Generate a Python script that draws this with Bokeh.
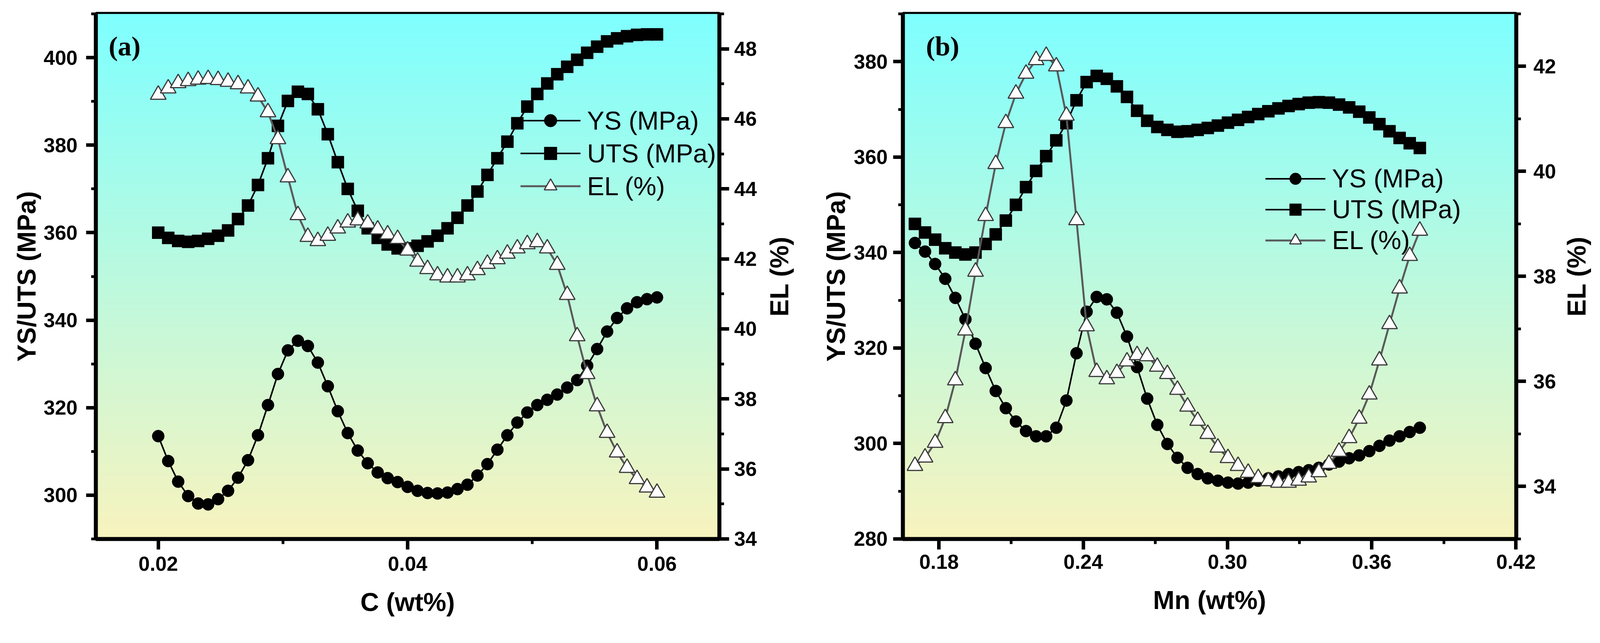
import numpy as np
from bokeh.plotting import figure
from bokeh.models import (Range1d, LinearAxis, FixedTicker, PrintfTickFormatter,
                          Legend, LegendItem, Label)
from bokeh.layouts import row
from bokeh.embed import file_html
from bokeh.resources import INLINE

# ---------------- data : panel (a) C content ----------------
c_wt = [0.0200, 0.0208, 0.0216, 0.0224, 0.0232, 0.0240, 0.0248, 0.0256, 0.0264, 0.0272,
        0.0280, 0.0288, 0.0296, 0.0304, 0.0312, 0.0320, 0.0328, 0.0336, 0.0344, 0.0352,
        0.0360, 0.0368, 0.0376, 0.0384, 0.0392, 0.0400, 0.0408, 0.0416, 0.0424, 0.0432,
        0.0440, 0.0448, 0.0456, 0.0464, 0.0472, 0.0480, 0.0488, 0.0496, 0.0504, 0.0512,
        0.0520, 0.0528, 0.0536, 0.0544, 0.0552, 0.0560, 0.0568, 0.0576, 0.0584, 0.0592,
        0.0600]
ys_c = [313.5, 307.8, 303.1, 299.8, 298.1, 297.9, 299.1, 301.0, 304.0, 308.0,
        313.7, 320.6, 327.7, 333.1, 335.3, 334.1, 330.3, 324.9, 319.2, 314.2,
        310.2, 307.3, 305.2, 303.9, 303.0, 301.9, 301.0, 300.5, 300.4, 300.6,
        301.4, 302.4, 304.5, 307.1, 310.4, 313.7, 316.6, 318.9, 320.6, 321.8,
        323.0, 324.6, 326.3, 329.6, 333.4, 337.4, 340.5, 342.7, 344.1, 344.8,
        345.2]
uts_c = [360.0, 358.8, 358.1, 357.9, 358.1, 358.6, 359.3, 360.5, 363.1, 366.2,
         370.9, 377.0, 384.4, 390.1, 392.2, 391.7, 388.2, 382.5, 376.1, 370.0,
         365.0, 361.0, 358.8, 357.3, 356.4, 356.4, 357.0, 358.0, 359.3, 361.0,
         363.4, 366.2, 369.4, 373.2, 377.0, 380.8, 385.0, 388.8, 391.7, 394.1,
         396.2, 397.9, 399.5, 401.1, 402.5, 403.7, 404.4, 404.9, 405.2, 405.3,
         405.3]
el_c = [46.69, 46.87, 47.02, 47.08, 47.12, 47.14, 47.11, 47.06, 46.99, 46.87,
        46.64, 46.19, 45.42, 44.33, 43.25, 42.63, 42.51, 42.66, 42.87, 43.04,
        43.10, 43.01, 42.84, 42.70, 42.57, 42.24, 41.92, 41.71, 41.53, 41.47,
        41.47, 41.53, 41.68, 41.86, 41.99, 42.15, 42.30, 42.42, 42.48, 42.30,
        41.83, 40.97, 39.79, 38.71, 37.79, 37.03, 36.47, 36.03, 35.71, 35.47,
        35.32]

# ---------------- data : panel (b) Mn content ----------------
mn_wt = [0.1700, 0.1742, 0.1784, 0.1826, 0.1868, 0.1910, 0.1952, 0.1994, 0.2036, 0.2078,
         0.2120, 0.2162, 0.2204, 0.2246, 0.2288, 0.2330, 0.2372, 0.2414, 0.2456, 0.2498,
         0.2540, 0.2582, 0.2624, 0.2666, 0.2708, 0.2750, 0.2792, 0.2834, 0.2876, 0.2918,
         0.2960, 0.3002, 0.3044, 0.3086, 0.3128, 0.3170, 0.3212, 0.3254, 0.3296, 0.3338,
         0.3380, 0.3422, 0.3464, 0.3506, 0.3548, 0.3590, 0.3632, 0.3674, 0.3716, 0.3758,
         0.3800]
ys_mn = [342.0, 340.2, 337.6, 334.5, 330.5, 326.0, 320.9, 315.8, 311.0, 307.4,
         304.6, 302.6, 301.5, 301.5, 303.3, 309.0, 318.9, 327.6, 330.7, 330.2,
         327.4, 322.4, 316.0, 309.4, 303.9, 299.9, 297.0, 294.9, 293.6, 292.7,
         292.2, 291.8, 291.6, 291.8, 292.2, 292.7, 293.1, 293.6, 294.0, 294.4,
         294.9, 295.6, 296.2, 296.9, 297.5, 298.4, 299.5, 300.6, 301.5, 302.4,
         303.3]
uts_mn = [346.0, 344.2, 342.7, 340.9, 340.0, 339.6, 340.0, 341.8, 343.8, 346.7,
          350.0, 353.7, 357.1, 360.2, 363.5, 367.1, 371.9, 375.7, 377.0, 376.4,
          374.8, 372.6, 369.7, 367.6, 366.3, 365.7, 365.3, 365.4, 365.7, 366.1,
          366.6, 367.2, 367.8, 368.4, 369.0, 369.6, 370.2, 370.7, 371.1, 371.4,
          371.5, 371.4, 371.0, 370.4, 369.5, 368.3, 366.9, 365.4, 364.0, 362.9,
          361.9]
el_mn = [34.39, 34.55, 34.83, 35.30, 36.02, 36.97, 38.09, 39.15, 40.14, 40.92,
         41.48, 41.86, 42.12, 42.20, 42.00, 41.06, 39.07, 37.05, 36.18, 36.04,
         36.16, 36.38, 36.50, 36.48, 36.28, 36.14, 35.84, 35.52, 35.25, 35.00,
         34.74, 34.54, 34.39, 34.26, 34.16, 34.10, 34.07, 34.07, 34.11, 34.17,
         34.27, 34.43, 34.66, 34.92, 35.29, 35.75, 36.40, 37.09, 37.77, 38.39,
         38.87]

# ---------------- ticks ----------------
xticks_c = [0.02, 0.04, 0.06]
xminor_c = [0.03, 0.05]
yticks_c = [300, 320, 340, 360, 380, 400]
yminor_c = [290, 310, 330, 350, 370, 390, 410]
elticks_c = [34, 36, 38, 40, 42, 44, 46, 48]
elminor_c = [35, 37, 39, 41, 43, 45, 47, 49]

xticks_mn = [0.18, 0.24, 0.30, 0.36, 0.42]
xminor_mn = [0.21, 0.27, 0.33, 0.39]
yticks_mn = [280, 300, 320, 340, 360, 380]
yminor_mn = [290, 310, 330, 350, 370, 390]
elticks_mn = [34, 36, 38, 40, 42]
elminor_mn = [33, 35, 37, 39, 41, 43]

labels = ["YS (MPa)", "UTS (MPa)", "EL (%)"]
left_title = "YS/UTS (MPa)"
right_title = "EL (%)"

FONT = "Liberation Sans"
H = 1631
TICK_FS = "52px"
TITLE_FS = "66px"
LEG_FS = "66px"


def gradient(rows=600):
    top = np.array([126.0, 255.0, 255.0])
    bot = np.array([248.0, 243.0, 190.0])
    t = np.linspace(0.0, 1.0, rows)[:, None]
    rgb = bot * (1 - t) + top * t
    img = np.empty((rows, 2), dtype=np.uint32)
    v = img.view(dtype=np.uint8).reshape((rows, 2, 4))
    for k in range(3):
        v[:, :, k] = np.round(rgb[:, k])[:, None].astype(np.uint8)
    v[:, :, 3] = 255
    return img


def style_axis(ax, ticks, minor, tick_out, fmt=None, lab_standoff=15, title_standoff=15):
    ax.ticker = FixedTicker(ticks=ticks, minor_ticks=minor)
    if fmt:
        ax.formatter = PrintfTickFormatter(format=fmt)
    ax.axis_line_color = "black"
    ax.axis_line_width = 10
    ax.major_tick_line_color = "black"
    ax.major_tick_line_width = 9
    ax.major_tick_out = tick_out
    ax.major_tick_in = 0
    ax.minor_tick_line_color = "black"
    ax.minor_tick_line_width = 7
    ax.minor_tick_out = tick_out // 2
    ax.minor_tick_in = 0
    ax.major_label_text_font = FONT
    ax.major_label_text_font_size = TICK_FS
    ax.major_label_text_font_style = "bold"
    ax.major_label_text_color = "black"
    ax.major_label_standoff = lab_standoff
    ax.axis_label_text_font = FONT
    ax.axis_label_text_font_size = TITLE_FS
    ax.axis_label_text_font_style = "bold"
    ax.axis_label_text_color = "black"
    ax.axis_label_standoff = title_standoff


def title_only_axis(label, standoff):
    ax = LinearAxis(axis_label=label)
    ax.ticker = FixedTicker(ticks=[], minor_ticks=[])
    ax.axis_line_alpha = 0
    ax.major_tick_out = 0
    ax.major_tick_in = 0
    ax.minor_tick_out = 0
    ax.minor_tick_in = 0
    ax.major_label_standoff = 0
    ax.axis_label_text_font = FONT
    ax.axis_label_text_font_size = TITLE_FS
    ax.axis_label_text_font_style = "bold"
    ax.axis_label_text_color = "black"
    ax.axis_label_standoff = standoff
    return ax


def panel(x, ys, uts, el, xr, yr, elr, xt, xm, yt, ym, et, em, xlabel, tag, tag_frac,
          width, borders, legend_loc, row_h, stand, extra_left=None):
    bl, br, bt, bb = borders
    p = figure(width=width, height=H, x_range=Range1d(*xr), y_range=Range1d(*yr),
               output_backend="svg", toolbar_location=None,
               min_border_left=bl, min_border_right=br, min_border_top=bt, min_border_bottom=bb)
    p.extra_y_ranges = {"el": Range1d(*elr)}
    p.xgrid.visible = False
    p.ygrid.visible = False
    p.border_fill_color = "white"
    p.background_fill_color = "white"
    p.outline_line_color = "black"
    p.outline_line_width = 10
    p.outline_line_alpha = 1.0

    p.image_rgba(image=[gradient()], x=xr[0], y=yr[0], dw=xr[1] - xr[0], dh=yr[1] - yr[0],
                 level="image")

    l_uts = p.line(x, uts, line_color="black", line_width=4)
    s_uts = p.scatter(x, uts, marker="square", size=31, fill_color="black", line_color="black")
    l_ys = p.line(x, ys, line_color="black", line_width=4)
    s_ys = p.scatter(x, ys, marker="circle", size=31, fill_color="black", line_color="black")
    l_el = p.line(x, el, y_range_name="el", line_color="#5a5a5a", line_width=5)
    s_el = p.scatter(x, el, y_range_name="el", marker="triangle", size=40,
                     fill_color="white", line_color="#3a3a3a", line_width=3)

    p.xaxis.axis_label = xlabel
    style_axis(p.xaxis[0], xt, xm, 27, "%.2f", stand["xl"], stand["xt"])
    p.yaxis.axis_label = left_title
    style_axis(p.yaxis[0], yt, ym, 25, None, stand["yl"], stand["yt"])
    rax = LinearAxis(y_range_name="el")
    style_axis(rax, et, em, 25, None, stand["rl"], 0)
    p.add_layout(rax, "right")
    if extra_left is not None:
        p.add_layout(title_only_axis(*extra_left), "left")

    legend = Legend(items=[LegendItem(label=labels[0], renderers=[l_ys, s_ys]),
                           LegendItem(label=labels[1], renderers=[l_uts, s_uts]),
                           LegendItem(label=labels[2], renderers=[l_el, s_el])],
                    location=legend_loc, glyph_width=154, glyph_height=row_h, label_height=row_h,
                    spacing=3, padding=0, margin=0, label_standoff=17,
                    background_fill_alpha=0, border_line_alpha=0,
                    label_text_font=FONT, label_text_font_size=LEG_FS,
                    label_text_color="black")
    p.add_layout(legend)

    p.add_layout(Label(x=xr[0] + tag_frac[0] * (xr[1] - xr[0]),
                       y=yr[0] + tag_frac[1] * (yr[1] - yr[0]),
                       text=tag, text_font="Liberation Serif", text_font_style="bold",
                       text_font_size="70px", text_baseline="middle", text_align="left",
                       text_color="black"))
    return p


# panel (a)
pa = panel(c_wt, ys_c, uts_c, el_c, (0.015, 0.065), (290, 410), (33.999, 49),
           xticks_c, xminor_c, yticks_c, yminor_c, elticks_c, elminor_c,
           "C (wt%)", "(a)", (0.0205, 0.938), 1951, (245, 110, 35, 226), (1087, 863), 81,
           dict(xl=18, xt=40, yl=22, yt=4, rl=13))

# panel (b) ; its outer left axis carries the EL title of panel (a)
pb = panel(mn_wt, ys_mn, uts_mn, el_mn, (0.165, 0.4201), (279.999, 390), (32.999, 43),
           xticks_mn, xminor_mn, yticks_mn, yminor_mn, elticks_mn, elminor_mn,
           "Mn (wt%)", "(b)", (0.0375, 0.938), 2044, (360, 114, 31, 251), (928, 727), 75,
           dict(xl=13, xt=40, yl=14, yt=6, rl=19), extra_left=(right_title, 68))

# narrow strip carrying the EL title of panel (b)
pc = figure(width=94, height=H, x_range=Range1d(0, 1), y_range=Range1d(32.999, 43),
            output_backend="svg", toolbar_location=None, x_axis_location=None,
            y_axis_location=None, min_border_left=88, min_border_right=0,
            min_border_top=31, min_border_bottom=251)
pc.xgrid.visible = False
pc.ygrid.visible = False
pc.outline_line_color = None
pc.border_fill_color = "white"
pc.background_fill_color = "white"
pc.add_layout(title_only_axis(right_title, 12), "left")

layout = row(pa, pb, pc)
open("out.html", "w").write(file_html(layout, INLINE))
